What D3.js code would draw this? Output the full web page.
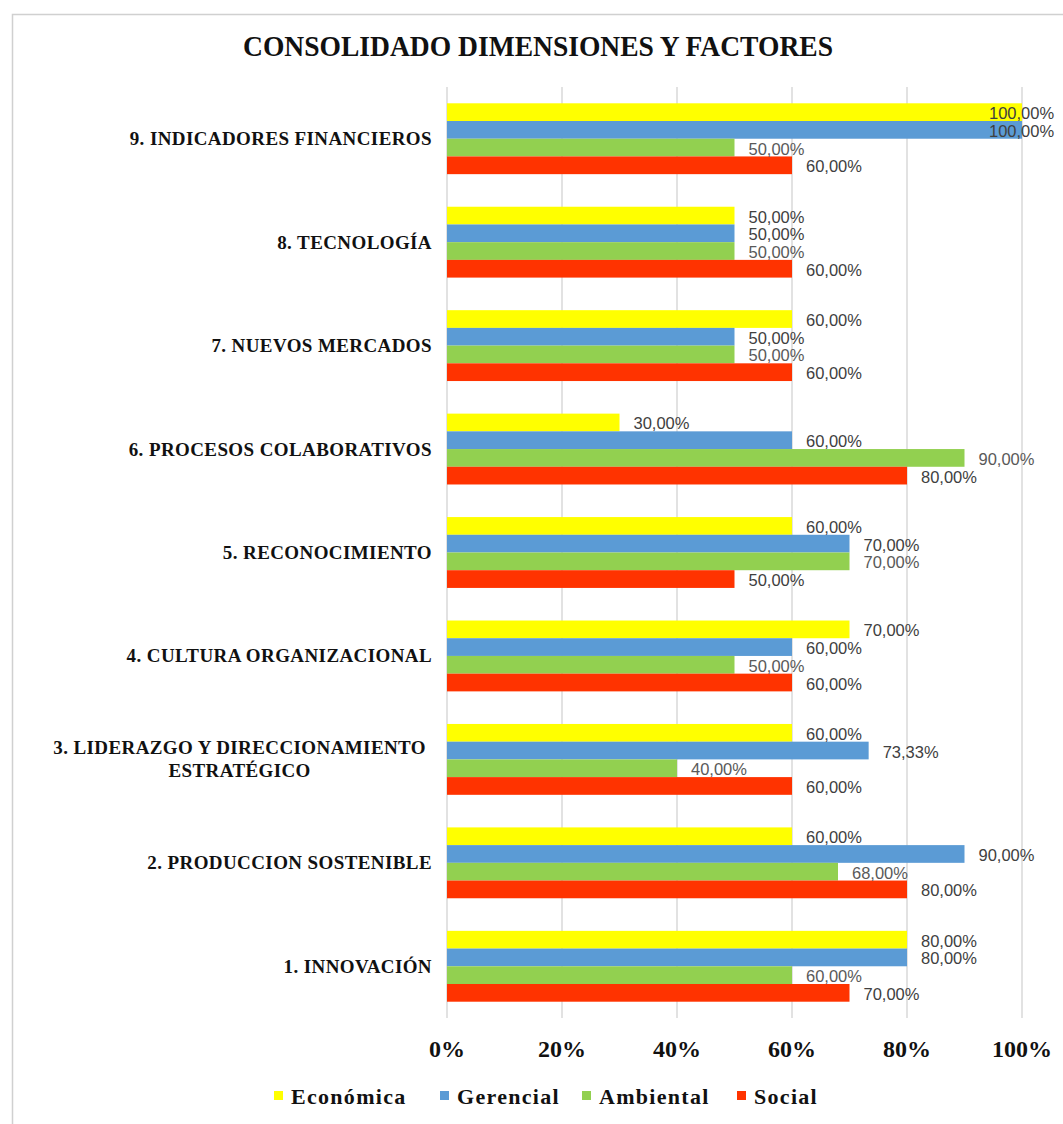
<!DOCTYPE html>
<html><head><meta charset="utf-8">
<script src="https://cdn.jsdelivr.net/npm/d3@7"></script>
<style>html,body{margin:0;padding:0;background:#fff;}</style>
</head><body>
<svg id="chart" width="1063" height="1124"></svg>
<script>
const title = "CONSOLIDADO DIMENSIONES Y FACTORES";
const categories = [
  ["1. INNOVACIÓN"],
  ["2. PRODUCCION SOSTENIBLE"],
  ["3. LIDERAZGO Y DIRECCIONAMIENTO", "ESTRATÉGICO"],
  ["4. CULTURA ORGANIZACIONAL"],
  ["5. RECONOCIMIENTO"],
  ["6. PROCESOS COLABORATIVOS"],
  ["7. NUEVOS MERCADOS"],
  ["8. TECNOLOGÍA"],
  ["9. INDICADORES FINANCIEROS"]
];
const seriesNames = ["Económica", "Gerencial", "Ambiental", "Social"];
const economica = [80, 60, 60, 70, 60, 30, 60, 50, 100];
const gerencial = [80, 90, 73.33, 60, 70, 60, 50, 50, 100];
const ambiental = [60, 68, 40, 50, 70, 90, 50, 50, 50];
const social    = [70, 80, 60, 60, 50, 80, 60, 60, 60];
const xTicks = [0, 20, 40, 60, 80, 100];
const colors = ["#FFFF00", "#5B9BD5", "#92D050", "#FF3300"];
const labelColors = ["#404040", "#404040", "#595959", "#404040"];

const seriesValues = [economica, gerencial, ambiental, social];
const svg = d3.select("#chart");
const serif = "'Liberation Serif','Times New Roman',serif";
const sans = "'Liberation Sans',Arial,sans-serif";

// frame
svg.append("rect").attr("x", 12.5).attr("y", 14.5).attr("width", 1100).attr("height", 1200)
  .attr("fill", "#fff").attr("stroke", "#d0d0d0").attr("stroke-width", 1.5);

// title
svg.append("text").attr("x", 538).attr("y", 56).attr("text-anchor", "middle")
  .attr("font-family", serif).attr("font-weight", "bold").attr("font-size", 30)
  .attr("textLength", 590).attr("lengthAdjust", "spacingAndGlyphs")
  .attr("fill", "#111").text(title);

const catKeys = categories.map(c => c.join(" "));
const x = d3.scaleLinear().domain([0, 100]).range([447, 1022]);
const y = d3.scaleBand().domain(catKeys.slice().reverse()).range([87, 1018])
  .paddingInner(0.315).paddingOuter(0.1575);
const ys = d3.scaleBand().domain(seriesNames).range([0, y.bandwidth()]);

// gridlines
svg.append("g").selectAll("line").data(xTicks).join("line")
  .attr("x1", d => x(d)).attr("x2", d => x(d)).attr("y1", 87).attr("y2", 1018)
  .attr("stroke", "#d9d9d9").attr("stroke-width", 1.5);

// bars
const rows = [];
catKeys.forEach((k, i) => seriesNames.forEach((s, j) => rows.push({cat: k, s, j, v: seriesValues[j][i]})));
svg.append("g").selectAll("rect").data(rows).join("rect")
  .attr("x", x(0)).attr("y", d => y(d.cat) + ys(d.s))
  .attr("width", d => x(d.v) - x(0)).attr("height", ys.bandwidth())
  .attr("fill", d => colors[d.j]);

// value labels
const fmt = v => v.toFixed(2).replace(".", ",") + "%";
svg.append("g").selectAll("text").data(rows).join("text")
  .attr("x", d => Math.min(x(d.v) + 14, 989))
  .attr("y", d => y(d.cat) + ys(d.s) + ys.bandwidth() / 2 + 7)
  .attr("font-family", sans).attr("font-size", 16.5)
  .attr("fill", d => labelColors[d.j]).text(d => fmt(d.v));

// category labels
categories.forEach((lines, i) => {
  const cy = y(catKeys[i]) + y.bandwidth() / 2;
  const g = svg.append("g");
  const n = lines.length;
  const texts = lines.map((t, li) => g.append("text")
    .attr("y", cy + (li - (n - 1) / 2) * 23 + 6.5)
    .attr("font-family", serif).attr("font-weight", "bold").attr("font-size", 19)
    .attr("letter-spacing", 0.4)
    .attr("fill", "#111").text(t));
  if (n === 1) {
    texts[0].attr("x", 432).attr("text-anchor", "end");
  } else {
    const w = d3.max(texts, t => t.node().getComputedTextLength());
    const cx = 426 - w / 2;
    texts.forEach(t => t.attr("x", cx).attr("text-anchor", "middle"));
  }
});

// x axis tick labels
svg.append("g").selectAll("text").data(xTicks).join("text")
  .attr("x", d => x(d)).attr("y", 1057).attr("text-anchor", "middle")
  .attr("font-family", serif).attr("font-weight", "bold").attr("font-size", 24)
  .attr("fill", "#111").text(d => d + "%");

// legend
const legendX = [274, 440, 582, 737];
const lg = svg.append("g");
seriesNames.forEach((s, j) => {
  lg.append("rect").attr("x", legendX[j]).attr("y", 1091).attr("width", 9).attr("height", 9)
    .attr("fill", colors[j]);
  lg.append("text").attr("x", legendX[j] + 17).attr("y", 1104)
    .attr("font-family", serif).attr("font-weight", "bold").attr("font-size", 22)
    .attr("letter-spacing", 1.3).attr("fill", "#111").text(s);
});
</script>
</body></html>
